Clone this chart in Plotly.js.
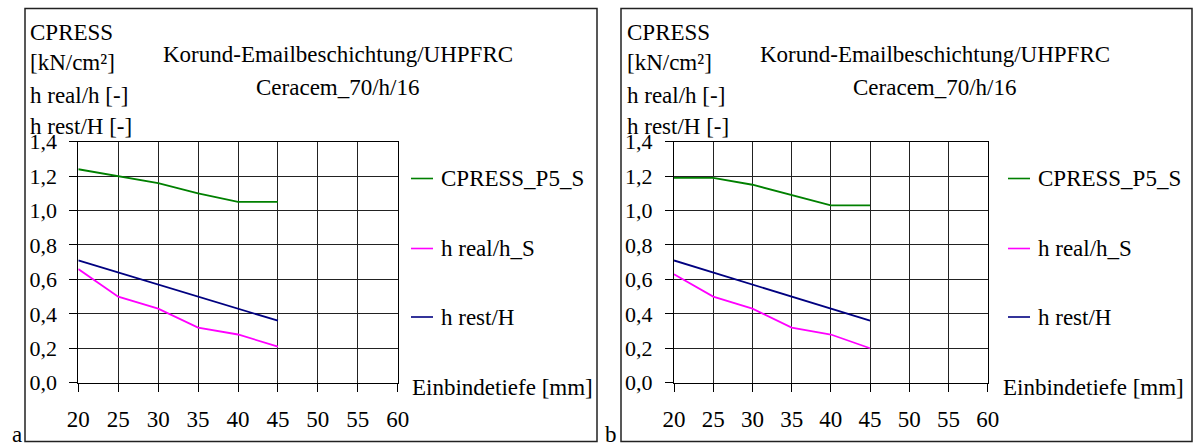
<!DOCTYPE html>
<html>
<head>
<meta charset="utf-8">
<script src="https://cdn.plot.ly/plotly-3.0.1.min.js"></script>
<style>html,body{margin:0;padding:0;background:#fff;}#chart{width:1197px;height:445px;}</style>
</head>
<body>
<div id="chart"></div>
<script>
// ---- data ----
const depth = [20, 25, 30, 35, 40, 45];
const xTicks = [20, 25, 30, 35, 40, 45, 50, 55, 60];
const cpressA = [1.24, 1.20, 1.16, 1.10, 1.05, 1.05];
const hRealA  = [0.66, 0.50, 0.43, 0.32, 0.28, 0.21];
const hRestA  = [0.71, 0.64, 0.57, 0.50, 0.43, 0.36];
const cpressB = [1.19, 1.19, 1.15, 1.09, 1.03, 1.03];
const hRealB  = [0.63, 0.50, 0.43, 0.32, 0.28, 0.20];
const hRestB  = [0.71, 0.64, 0.57, 0.50, 0.43, 0.36];
const seriesNames = ["CPRESS_P5_S", "h real/h_S", "h rest/H"];
const seriesColors = ["#008000", "#FF00FF", "#000080"];
const titleLines = ["Korund-Emailbeschichtung/UHPFRC", "Ceracem_70/h/16"];
const yTitleLines = ["CPRESS", "[kN/cm²]", "h real/h [-]", "h rest/H [-]"];
const xTitle = "Einbindetiefe [mm]";
const panelLabels = ["a", "b"];

// ---- layout helpers ----
const W = 1197, H = 445;
const px = x => x / W;
const py = y => 1 - y / H;
const FONT = '"Times New Roman", "Liberation Serif", Times, serif';

const panels = [
  {plotL: 78.3, plotR: 397.7, boxL: 25, boxR: 597, titleX: 338, yTitleX: 28, legLine: [411, 433], legText: 439, xTitleX: 410, labelX: 10, data: [cpressA, hRealA, hRestA]},
  {plotL: 674, plotR: 987.7, boxL: 621, boxR: 1192, titleX: 935, yTitleX: 625, legLine: [1008, 1030], legText: 1036, xTitleX: 1001, labelX: 603, data: [cpressB, hRealB, hRestB]}
];
const plotTop = 141.7, plotBot = 382.7;

const traces = [];
const layout = {
  width: W, height: H, autosize: false,
  margin: {l: 0, r: 0, t: 0, b: 0},
  paper_bgcolor: "#fff", plot_bgcolor: "#fff",
  separators: ",.",
  showlegend: false,
  font: {family: FONT, size: 23, color: "#000"},
  annotations: [], shapes: []
};

panels.forEach((p, i) => {
  const xa = i === 0 ? "x" : "x2";
  const ya = i === 0 ? "y" : "y2";
  const xKey = i === 0 ? "xaxis" : "xaxis2";
  const yKey = i === 0 ? "yaxis" : "yaxis2";
  layout[xKey] = {
    domain: [px(p.plotL), px(p.plotR)], anchor: ya,
    range: [20, 60], tickmode: "array", tickvals: xTicks, ticktext: xTicks.map(String),
    showgrid: true, gridcolor: "#222", gridwidth: 1,
    showline: true, linecolor: "#000", linewidth: 1, mirror: true,
    ticks: "outside", ticklen: 8, tickcolor: "#000", tickwidth: 1,
    ticklabelstandoff: 8,
    tickfont: {family: FONT, size: 23, color: "#000"},
    zeroline: false, fixedrange: true
  };
  layout[yKey] = {
    domain: [py(plotBot), py(plotTop)], anchor: xa,
    range: [0, 1.4], dtick: 0.2, tick0: 0, tickformat: ".1f",
    showgrid: true, gridcolor: "#222", gridwidth: 1,
    showline: true, linecolor: "#000", linewidth: 1, mirror: true,
    ticks: "outside", ticklen: 8, tickcolor: "#000", tickwidth: 1,
    ticklabelstandoff: 8,
    tickfont: {family: FONT, size: 22, color: "#000"},
    zeroline: false, fixedrange: true
  };
  p.data.forEach((vals, k) => {
    traces.push({
      type: "scatter", mode: "lines", x: depth, y: vals,
      xaxis: xa, yaxis: ya, name: seriesNames[k],
      line: {color: seriesColors[k], width: 1.8}, hoverinfo: "x+y"
    });
  });
  // outer box
  layout.shapes.push({type: "rect", xref: "paper", yref: "paper",
    x0: px(p.boxL), x1: px(p.boxR), y0: py(441.5), y1: py(8.5),
    line: {color: "#222", width: 1.5}, fillcolor: "rgba(0,0,0,0)"});
  // title
  titleLines.forEach((t, j) => {
    layout.annotations.push({xref: "paper", yref: "paper", x: px(p.titleX), y: py(55 + j * 33),
      xanchor: "center", yanchor: "middle", text: t, showarrow: false,
      font: {family: FONT, size: 23, color: "#000"}});
  });
  // y title lines
  const yT = [32, 63, 96, 126];
  yTitleLines.forEach((t, j) => {
    layout.annotations.push({xref: "paper", yref: "paper", x: px(p.yTitleX), y: py(yT[j]),
      xanchor: "left", yanchor: "middle", text: t, showarrow: false,
      font: {family: FONT, size: 23, color: "#000"}});
  });
  // legend (manual)
  const legY = [178.5, 248.5, 317];
  seriesNames.forEach((n, k) => {
    layout.shapes.push({type: "line", xref: "paper", yref: "paper",
      x0: px(p.legLine[0]), x1: px(p.legLine[1]), y0: py(legY[k]), y1: py(legY[k]),
      line: {color: seriesColors[k], width: 1.6}});
    layout.annotations.push({xref: "paper", yref: "paper", x: px(p.legText), y: py(legY[k]),
      xanchor: "left", yanchor: "middle", text: n, showarrow: false,
      font: {family: FONT, size: 23, color: "#000"}});
  });
  // x title
  layout.annotations.push({xref: "paper", yref: "paper", x: px(p.xTitleX), y: py(387),
    xanchor: "left", yanchor: "middle", text: xTitle, showarrow: false,
    font: {family: FONT, size: 23, color: "#000"}});
  // panel label
  layout.annotations.push({xref: "paper", yref: "paper", x: px(p.labelX), y: py(434),
    xanchor: "left", yanchor: "middle", text: panelLabels[i], showarrow: false,
    font: {family: FONT, size: 23, color: "#000"}});
});

Plotly.newPlot("chart", traces, layout, {displayModeBar: false, staticPlot: true});
</script>
</body>
</html>
